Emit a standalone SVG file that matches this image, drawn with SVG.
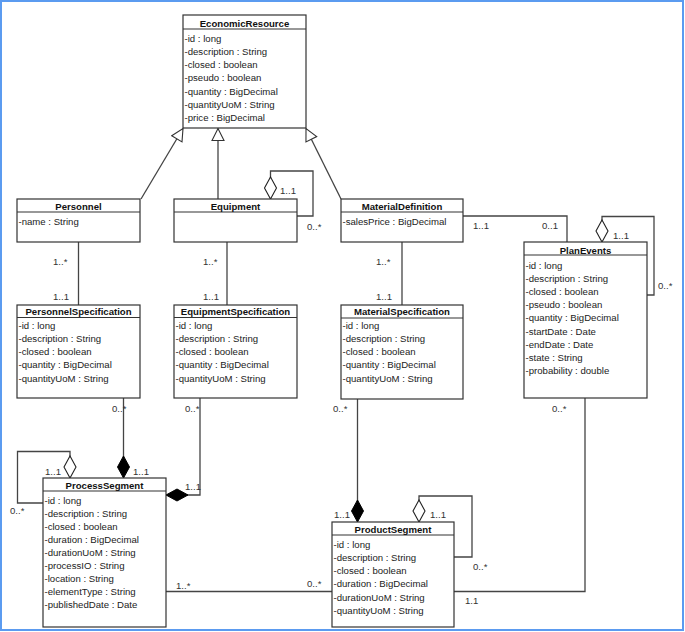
<svg xmlns="http://www.w3.org/2000/svg" width="685" height="632" viewBox="0 0 685 632">
<defs>
<style>
.box{fill:#fff;stroke:#333;stroke-width:1.2}
.sep{stroke:#333;stroke-width:1.2}
.t{font-family:"Liberation Sans",Arial,sans-serif;font-size:9.6px;font-weight:bold;fill:#111;text-anchor:middle}
.a{font-family:"Liberation Sans",Arial,sans-serif;font-size:9.6px;fill:#222}
.m{font-family:"Liberation Sans",Arial,sans-serif;font-size:9.6px;fill:#333}
.c{fill:none;stroke:#444;stroke-width:1.3}
</style>
<marker id="tri" markerUnits="userSpaceOnUse" markerWidth="14" markerHeight="14" refX="12" refY="6" orient="auto" viewBox="-1 -1 14 14">
<path d="M0,0 L12,6 L0,12 z" fill="#fff" stroke="#333" stroke-width="1.1"/>
</marker>
<marker id="hd" markerUnits="userSpaceOnUse" markerWidth="24" markerHeight="14" refX="22" refY="6" orient="auto" viewBox="-1 -1 24 14">
<path d="M0,6 L11,0 L22,6 L11,12 z" fill="#fff" stroke="#222" stroke-width="1.1"/>
</marker>
<marker id="fd" markerUnits="userSpaceOnUse" markerWidth="24" markerHeight="14" refX="22" refY="6" orient="auto" viewBox="-1 -1 24 14">
<path d="M0,6 L11,0 L22,6 L11,12 z" fill="#000" stroke="#000" stroke-width="1"/>
</marker>
</defs>
<rect x="1" y="1" width="682" height="629" fill="#fff" stroke="#5b9bf0" stroke-width="2"/>

<g id="connectors">
<path class="c" d="M141,199 L183,128.5" marker-end="url(#tri)"/>
<path class="c" d="M218,199 V128.5" marker-end="url(#tri)"/>
<path class="c" d="M341,199 L306,128.5" marker-end="url(#tri)"/>
<path class="c" d="M297,216 H313 V171 H270.5 V199" marker-end="url(#hd)"/>
<path class="c" d="M78.5,242 V305"/>
<path class="c" d="M227,242 V305"/>
<path class="c" d="M402,242 V305"/>
<path class="c" d="M463,216 H567 V242"/>
<path class="c" d="M647,295 H654 V216.5 H602 V242" marker-end="url(#hd)"/>
<path class="c" d="M123.5,398 V478" marker-end="url(#fd)"/>
<path class="c" d="M200,398 V495 H166" marker-end="url(#fd)"/>
<path class="c" d="M43,503 H17.5 V451.5 H70 V478" marker-end="url(#hd)"/>
<path class="c" d="M166,591.5 H332"/>
<path class="c" d="M357.5,399 V522" marker-end="url(#fd)"/>
<path class="c" d="M454,557 H472 V496 H419 V522" marker-end="url(#hd)"/>
<path class="c" d="M585,398 V591.5 H454"/>
<text class="m" x="280" y="193.5">1..1</text>
<text class="m" x="307" y="230">0..*</text>
<text class="m" x="53" y="264.5">1..*</text>
<text class="m" x="53" y="299.5">1..1</text>
<text class="m" x="203" y="264.5">1..*</text>
<text class="m" x="203" y="299.5">1..1</text>
<text class="m" x="376" y="264.5">1..*</text>
<text class="m" x="376" y="299.5">1..1</text>
<text class="m" x="473" y="228.5">1..1</text>
<text class="m" x="542" y="228.5">0..1</text>
<text class="m" x="613" y="238.5">1..1</text>
<text class="m" x="658" y="288.5">0..*</text>
<text class="m" x="112" y="411.5">0..*</text>
<text class="m" x="133" y="474.5">1..1</text>
<text class="m" x="185" y="411.5">0..*</text>
<text class="m" x="185" y="490">1..1</text>
<text class="m" x="45" y="474.5">1..1</text>
<text class="m" x="10" y="513.5">0..*</text>
<text class="m" x="176" y="588.5">1..*</text>
<text class="m" x="307" y="586.5">0..*</text>
<text class="m" x="333" y="411.5">0..*</text>
<text class="m" x="334" y="517.5">1..1</text>
<text class="m" x="430" y="517.5">1..1</text>
<text class="m" x="473" y="569.5">0..*</text>
<text class="m" x="552" y="411.5">0..*</text>
<text class="m" x="465" y="603.5">1.1</text>
</g>

<g id="EconomicResource">
<rect class="box" x="183" y="15" width="123" height="113"/>
<line class="sep" x1="183" y1="29" x2="306" y2="29"/>
<text class="t" x="244.5" y="26.5">EconomicResource</text>
<text class="a" x="184.5" y="41.8">-id : long<tspan x="184.5" dy="13.2">-description : String</tspan><tspan x="184.5" dy="13.2">-closed : boolean</tspan><tspan x="184.5" dy="13.2">-pseudo : boolean</tspan><tspan x="184.5" dy="13.2">-quantity : BigDecimal</tspan><tspan x="184.5" dy="13.2">-quantityUoM : String</tspan><tspan x="184.5" dy="13.2">-price : BigDecimal</tspan></text>
</g>

<g id="Personnel">
<rect class="box" x="17" y="199" width="123" height="43"/>
<line class="sep" x1="17" y1="212" x2="140" y2="212"/>
<text class="t" x="78.5" y="210">Personnel</text>
<text class="a" x="18.5" y="225">-name : String</text>
</g>

<g id="Equipment">
<rect class="box" x="174" y="199" width="123" height="43"/>
<line class="sep" x1="174" y1="212" x2="297" y2="212"/>
<text class="t" x="235.5" y="210">Equipment</text>
</g>

<g id="MaterialDefinition">
<rect class="box" x="341" y="199" width="122" height="43"/>
<line class="sep" x1="341" y1="212" x2="463" y2="212"/>
<text class="t" x="402" y="210">MaterialDefinition</text>
<text class="a" x="342.5" y="225">-salesPrice : BigDecimal</text>
</g>

<g id="PlanEvents">
<rect class="box" x="524" y="242" width="123" height="156"/>
<line class="sep" x1="524" y1="255" x2="647" y2="255"/>
<text class="t" x="585.5" y="253.5">PlanEvents</text>
<text class="a" x="525.5" y="268.5">-id : long<tspan x="525.5" dy="13.2">-description : String</tspan><tspan x="525.5" dy="13.2">-closed : boolean</tspan><tspan x="525.5" dy="13.2">-pseudo : boolean</tspan><tspan x="525.5" dy="13.2">-quantity : BigDecimal</tspan><tspan x="525.5" dy="13.2">-startDate : Date</tspan><tspan x="525.5" dy="13.2">-endDate : Date</tspan><tspan x="525.5" dy="13.2">-state : String</tspan><tspan x="525.5" dy="13.2">-probability : double</tspan></text>
</g>

<g id="PersonnelSpecification">
<rect class="box" x="17" y="305" width="123" height="93"/>
<line class="sep" x1="17" y1="317.5" x2="140" y2="317.5"/>
<text class="t" x="78.5" y="314.8">PersonnelSpecification</text>
<text class="a" x="18.5" y="328.8">-id : long<tspan x="18.5" dy="13.2">-description : String</tspan><tspan x="18.5" dy="13.2">-closed : boolean</tspan><tspan x="18.5" dy="13.2">-quantity : BigDecimal</tspan><tspan x="18.5" dy="13.2">-quantityUoM : String</tspan></text>
</g>

<g id="EquipmentSpecification">
<rect class="box" x="174" y="305" width="123" height="93"/>
<line class="sep" x1="174" y1="317.5" x2="297" y2="317.5"/>
<text class="t" x="235.5" y="314.8">EquipmentSpecification</text>
<text class="a" x="175.5" y="328.8">-id : long<tspan x="175.5" dy="13.2">-description : String</tspan><tspan x="175.5" dy="13.2">-closed : boolean</tspan><tspan x="175.5" dy="13.2">-quantity : BigDecimal</tspan><tspan x="175.5" dy="13.2">-quantityUoM : String</tspan></text>
</g>

<g id="MaterialSpecification">
<rect class="box" x="341" y="305" width="122" height="94"/>
<line class="sep" x1="341" y1="318" x2="463" y2="318"/>
<text class="t" x="402" y="314.8">MaterialSpecification</text>
<text class="a" x="342.5" y="328.8">-id : long<tspan x="342.5" dy="13.2">-description : String</tspan><tspan x="342.5" dy="13.2">-closed : boolean</tspan><tspan x="342.5" dy="13.2">-quantity : BigDecimal</tspan><tspan x="342.5" dy="13.2">-quantityUoM : String</tspan></text>
</g>

<g id="ProcessSegment">
<rect class="box" x="43" y="478" width="123" height="149"/>
<line class="sep" x1="43" y1="491" x2="166" y2="491"/>
<text class="t" x="104.5" y="488.5">ProcessSegment</text>
<text class="a" x="44.5" y="503.5">-id : long<tspan x="44.5" dy="13.1">-description : String</tspan><tspan x="44.5" dy="13.1">-closed : boolean</tspan><tspan x="44.5" dy="13.1">-duration : BigDecimal</tspan><tspan x="44.5" dy="13.1">-durationUoM : String</tspan><tspan x="44.5" dy="13.1">-processIO : String</tspan><tspan x="44.5" dy="13.1">-location : String</tspan><tspan x="44.5" dy="13.1">-elementType : String</tspan><tspan x="44.5" dy="13.1">-publishedDate : Date</tspan></text>
</g>

<g id="ProductSegment">
<rect class="box" x="332" y="522" width="122" height="105"/>
<line class="sep" x1="332" y1="535" x2="454" y2="535"/>
<text class="t" x="393" y="532.5">ProductSegment</text>
<text class="a" x="333.5" y="547.8">-id : long<tspan x="333.5" dy="13.2">-description : String</tspan><tspan x="333.5" dy="13.2">-closed : boolean</tspan><tspan x="333.5" dy="13.2">-duration : BigDecimal</tspan><tspan x="333.5" dy="13.2">-durationUoM : String</tspan><tspan x="333.5" dy="13.2">-quantityUoM : String</tspan></text>
</g>
</svg>
